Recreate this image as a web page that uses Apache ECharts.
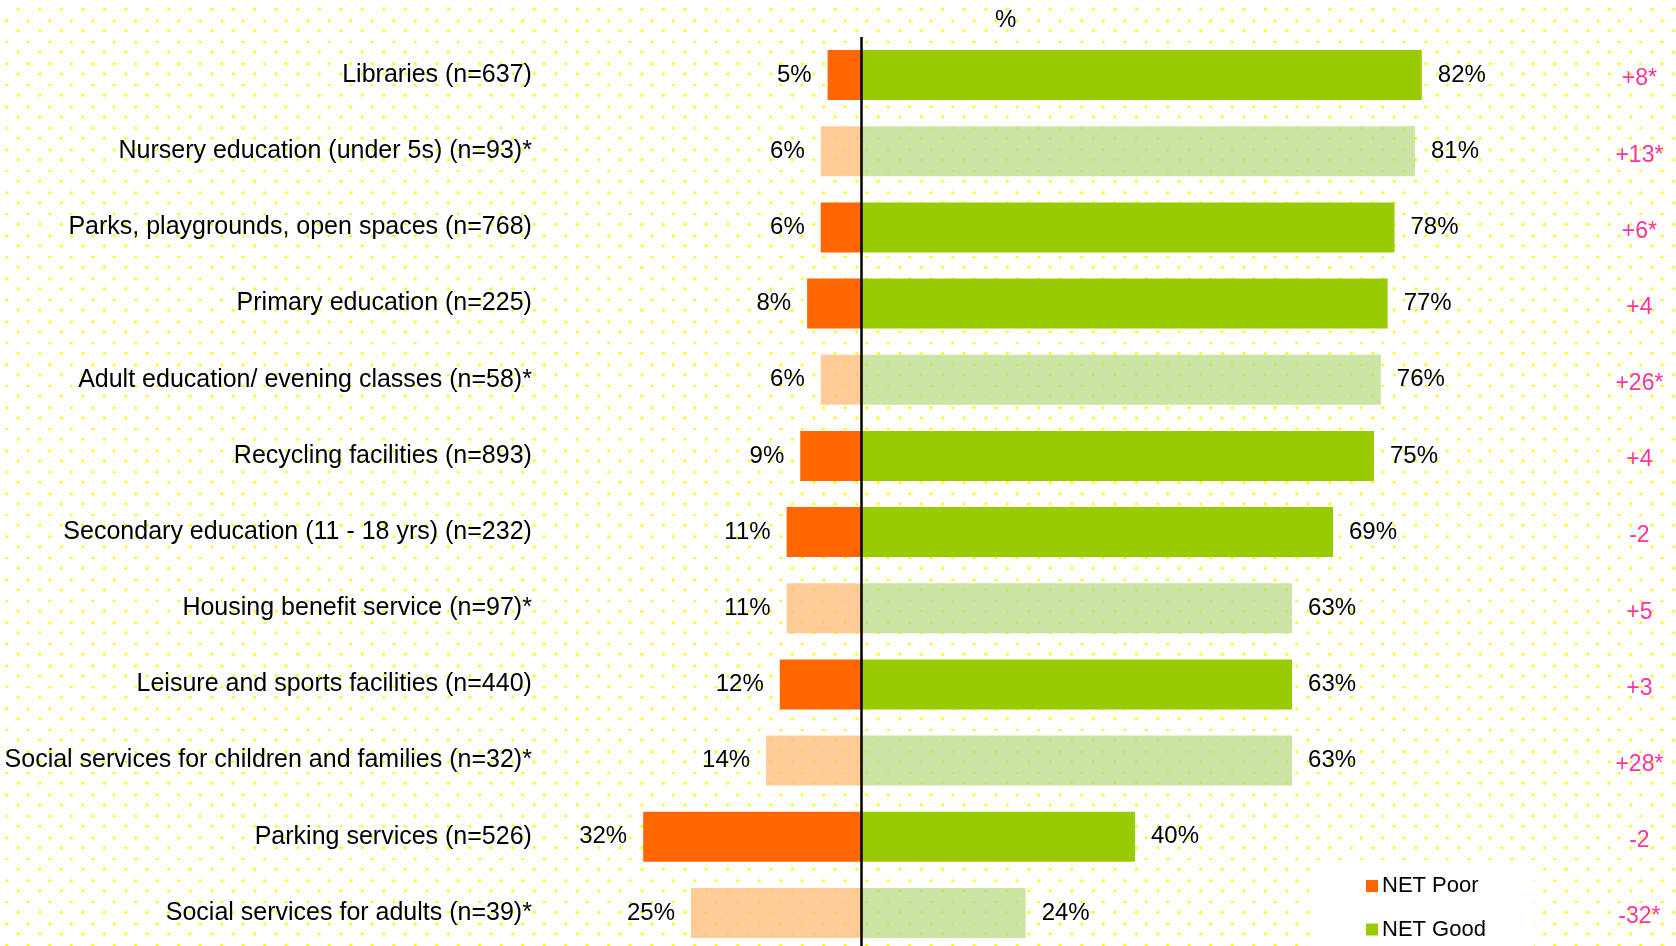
<!DOCTYPE html>
<html>
<head>
<meta charset="utf-8">
<title>Council services rating</title>
<script src="https://cdn.jsdelivr.net/npm/echarts@6/dist/echarts.min.js"></script>
<style>
  html, body { margin: 0; padding: 0; background: #fff; }
  #chart { width: 1676px; height: 946px; }
</style>
</head>
<body>
<div id="chart"></div>
<script>
// Services rated, top to bottom
const categories = [
  'Libraries (n=637)',
  'Nursery education (under 5s) (n=93)*',
  'Parks, playgrounds, open spaces (n=768)',
  'Primary education (n=225)',
  'Adult education/ evening classes (n=58)*',
  'Recycling facilities (n=893)',
  'Secondary education (11 - 18 yrs) (n=232)',
  'Housing benefit service (n=97)*',
  'Leisure and sports facilities (n=440)',
  'Social services for children and families (n=32)*',
  'Parking services (n=526)',
  'Social services for adults (n=39)*'
];
// Share rating the service poor / good (%)
const netPoor = [5, 6, 6, 8, 6, 9, 11, 11, 12, 14, 32, 25];
const netGood = [82, 81, 78, 77, 76, 75, 69, 63, 63, 63, 40, 24];
// Low base sizes (marked *) are drawn in paler shades
const lowBase = [false, true, false, false, true, false, false, true, false, true, false, true];
// Net change since the previous survey
const changeLabels = ['+8*', '+13*', '+6*', '+4', '+26*', '+4', '-2', '+5', '+3', '+28*', '-2', '-32*'];

const POOR = '#FF6600', GOOD = '#99CC00';
const POOR_LIGHT = 'rgba(255,187,119,0.75)', GOOD_LIGHT = 'rgba(184,220,134,0.75)';
const FONT = '"Liberation Sans", Arial, sans-serif';

// Dotted yellow backdrop tile
function dotTile() {
  const c = document.createElement('canvas');
  c.width = 43; c.height = 43;
  const g = c.getContext('2d');
  g.fillStyle = '#FFFF00';
  for (let i = 0; i < 2; i++) {
    for (let j = 0; j < 2; j++) {
      [[6.7, 20.7], [18.3, 9.3]].forEach(([x, y]) => {
        g.beginPath();
        g.arc(x + 21.5 * i, y + 21.5 * j, 1.5, 0, Math.PI * 2);
        g.fill();
      });
    }
  }
  return c;
}

const chart = echarts.init(document.getElementById('chart'), null, { renderer: 'canvas' });

const option = {
  backgroundColor: { image: dotTile(), repeat: 'repeat' },
  animation: false,
  textStyle: { fontFamily: FONT },
  title: {
    text: '%',
    left: 990,
    top: 3,
    textStyle: { fontFamily: FONT, fontSize: 24, fontWeight: 'normal', color: '#000' }
  },
  legend: {
    orient: 'vertical',
    left: 1315,
    top: 862,
    width: 120,
    height: 80,
    padding: [13, 48, 30, 51],
    backgroundColor: '#fff',
    itemGap: 21.5,
    itemWidth: 12,
    itemHeight: 12,
    icon: 'rect',
    textStyle: { fontFamily: FONT, fontSize: 22, lineHeight: 22, color: '#000', padding: [0, 0, 0, -1] },
    data: ['NET Poor', 'NET Good']
  },
  grid: { left: 533.9, top: 37, width: 1024.5, height: 914, containLabel: false, outerBoundsMode: 'none' },
  xAxis: { type: 'value', min: -48, max: 102, show: false },
  yAxis: [
    {
      type: 'category',
      data: categories,
      inverse: true,
      axisLine: { show: false },
      axisTick: { show: false },
      axisLabel: { fontFamily: FONT, fontSize: 25, color: '#000', margin: 2 }
    },
    {
      type: 'category',
      data: categories,
      inverse: true,
      position: 'right',
      axisLine: { show: false },
      axisTick: { show: false },
      axisLabel: {
        margin: 81, align: 'center',
        formatter: (v, i) => '{chg|' + changeLabels[i] + '}',
        rich: {
          chg: { fontFamily: FONT, fontSize: 23, color: '#FF3399', padding: [8, 0, 0, 0] }
        }
      }
    }
  ],
  series: [
    {
      name: 'NET Poor',
      type: 'bar',
      stack: 'net',
      barWidth: 50,
      itemStyle: { color: POOR },
      data: netPoor.map((v, i) => ({
        value: -v,
        itemStyle: { color: lowBase[i] ? POOR_LIGHT : POOR }
      })),
      label: {
        show: true, position: 'left', distance: 16,
        fontFamily: FONT, fontSize: 24, color: '#000',
        formatter: p => Math.abs(p.value) + '%'
      }
    },
    {
      name: 'NET Good',
      type: 'bar',
      stack: 'net',
      barWidth: 50,
      itemStyle: { color: GOOD },
      data: netGood.map((v, i) => ({
        value: v,
        itemStyle: { color: lowBase[i] ? GOOD_LIGHT : GOOD }
      })),
      label: {
        show: true, position: 'right', distance: 16,
        fontFamily: FONT, fontSize: 24, color: '#000',
        formatter: p => p.value + '%'
      },
      markLine: {
        silent: true,
        symbol: 'none',
        label: { show: false },
        lineStyle: { color: '#000', width: 2.5, type: 'solid' },
        data: [{ xAxis: 0 }]
      }
    }
  ]
};

chart.setOption(option);
</script>
</body>
</html>
